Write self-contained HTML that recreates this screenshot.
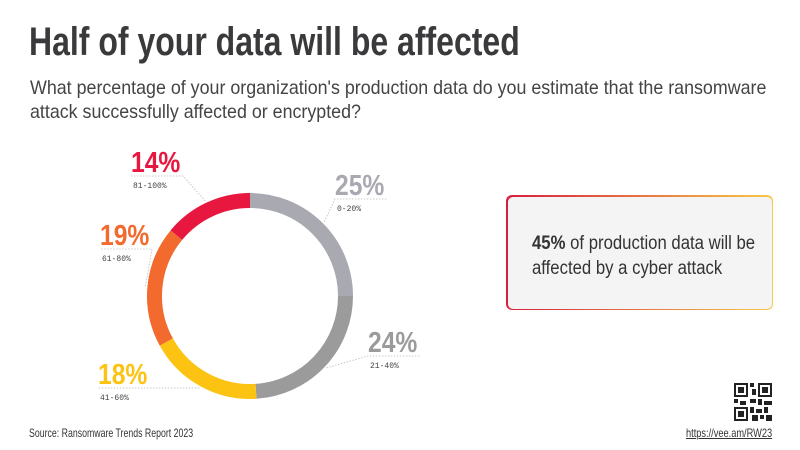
<!DOCTYPE html>
<html><head><meta charset="utf-8"><style>
body{margin:0;width:800px;height:450px;background:#fff;overflow:hidden;position:relative;font-family:"Liberation Sans Narrow","Liberation Sans",sans-serif;}
.t{position:absolute;white-space:nowrap;transform-origin:0 0;}
</style></head><body>
<div class="t" style="left:29px;top:20px;font-size:40px;font-weight:bold;color:#3a3a3c;transform:scaleX(0.8);">Half of your data will be affected</div>
<div class="t" style="left:30px;top:76px;font-size:19.5px;color:#444;line-height:24px;transform:scaleX(0.915);">What percentage of your organization's production data do you estimate that the ransomware<br>attack successfully affected or encrypted?</div>
<svg id="chart" width="800" height="450" style="position:absolute;left:0;top:0"></svg>
<div style="position:absolute;left:506px;top:195px;width:264px;height:112px;border-radius:6px;padding:1.5px;background:linear-gradient(90deg,#d61f3f,#f7c948);">
<div style="width:100%;height:100%;background:#f4f4f5;border-radius:5px;position:relative;">
<div class="t" style="left:24px;top:34px;font-size:19px;line-height:25px;color:#333;transform:scaleX(0.88);"><b>45%</b> of production data will be<br>affected by a cyber attack</div></div></div>
<div class="t" style="left:29px;top:426px;font-size:12px;color:#333;transform:scaleX(0.73);">Source: Ransomware Trends Report 2023</div>
<div class="t" style="left:686px;top:426px;font-size:12px;color:#333;text-decoration:underline;transform:scaleX(0.77);">https://vee.am/RW23</div>
<svg width="38" height="38" style="position:absolute;left:734px;top:383px" viewBox="0 0 19 19">
<rect x="0" y="0" width="7" height="7" fill="#222"/><rect x="1" y="1" width="5" height="5" fill="#fff"/><rect x="2" y="2" width="3" height="3" fill="#222"/>
<rect x="12" y="0" width="7" height="7" fill="#222"/><rect x="13" y="1" width="5" height="5" fill="#fff"/><rect x="14" y="2" width="3" height="3" fill="#222"/>
<rect x="0" y="12" width="7" height="7" fill="#222"/><rect x="1" y="13" width="5" height="5" fill="#fff"/><rect x="2" y="14" width="3" height="3" fill="#222"/>
<path d="M8 0h2v2h-2zM9 3h2v3h-2zM8 8h3v2h-3zM0 8h2v2h-2zM3 9h3v2h-3zM12 8h2v3h-2zM15 9h4v2h-4zM8 12h2v3h-2zM11 13h3v2h-3zM15 12h2v3h-2zM9 16h3v3h-3zM13 16h2v2h-2zM16 16h3v3h-3z" fill="#222"/>
</svg>
<script>
const categories=["0-20%","21-40%","41-60%","61-80%","81-100%"];
const values=[25,24,18,19,14];
const colors=["#a9a9b1","#9b9b9b","#fcc312","#f26a2d","#e8173f"];
const labelPos=[[335,168],[368,325],[98,357],[100,218],[131,145]];
const svg=document.getElementById('chart');
const NS="http://www.w3.org/2000/svg";
const cx=250,cy=296,r=95.5,w=15;
const total=values.reduce((a,b)=>a+b,0);
function angle(v){return v/total*2*Math.PI;}
function pt(a,rr){return [cx+rr*Math.sin(a),cy-rr*Math.cos(a)];}
let acc=0;
values.forEach((v,i)=>{
  const a0=angle(acc),a1=angle(acc+v);acc+=v;
  const p0=pt(a0,r),p1=pt(a1,r);
  const p=document.createElementNS(NS,'path');
  p.setAttribute('d',`M${p0[0]},${p0[1]} A${r},${r} 0 ${a1-a0>Math.PI?1:0} 1 ${p1[0]},${p1[1]}`);
  p.setAttribute('fill','none');p.setAttribute('stroke',colors[i]);p.setAttribute('stroke-width',w);
  
  
  svg.appendChild(p);
  const am=(a0+a1)/2,pe=pt(am,r+w/2+2);
  const lx=labelPos[i][0],ly=labelPos[i][1];
  const right=lx>cx;
  const l=document.createElementNS(NS,'polyline');
  l.setAttribute('points',`${pe[0]},${pe[1]} ${right?lx:lx+52},${ly+31} ${right?lx+52:lx},${ly+31}`);
  l.setAttribute('fill','none');l.setAttribute('stroke','#bbb');l.setAttribute('stroke-dasharray','1.5,1.5');l.setAttribute('stroke-width','0.8');
  
  
  svg.appendChild(l);
  const t=document.createElementNS(NS,'text');
  t.setAttribute('transform',`translate(${lx},${ly+27}) scale(0.85,1)`);
  t.setAttribute('fill',colors[i]);
  t.setAttribute('font-size','29');t.setAttribute('font-weight','bold');
  t.setAttribute('font-family','"Liberation Sans",sans-serif');
  t.textContent=v+'%';
  
  
  svg.appendChild(t);
  const c=document.createElementNS(NS,'text');
  c.setAttribute('x',lx+2);c.setAttribute('y',ly+43);c.setAttribute('fill','#444');
  c.setAttribute('font-size','8');c.setAttribute('font-family','"Liberation Mono",monospace');
  c.textContent=categories[i];
  
  
  svg.appendChild(c);
});
</script>
</body></html>
